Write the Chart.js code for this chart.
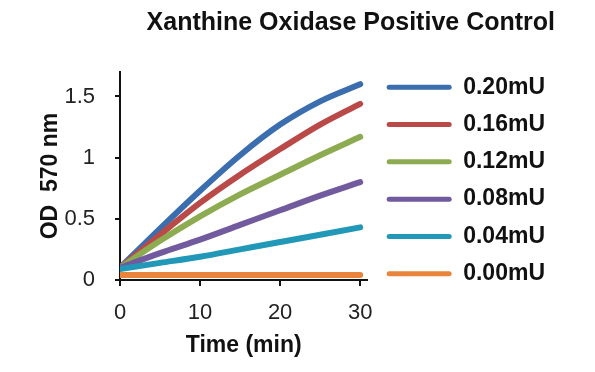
<!DOCTYPE html>
<html>
<head>
<meta charset="utf-8">
<script src="https://cdn.jsdelivr.net/npm/chart.js@4/dist/chart.umd.min.js"></script>
<style>
  html, body { margin: 0; padding: 0; background: #fff; }
  #wrap { width: 595px; height: 372px; }
</style>
</head>
<body>
<div id="wrap"><canvas id="xoChart" width="595" height="372"></canvas></div>
<script>
// time points (min)
const times = [0, 5, 10, 15, 20, 25, 30];

// OD 570 nm
const od020 = [0.10, 0.42, 0.73, 1.02, 1.27, 1.46, 1.60];
const od016 = [0.10, 0.37, 0.63, 0.86, 1.07, 1.27, 1.44];
const od012 = [0.10, 0.32, 0.52, 0.70, 0.86, 1.02, 1.17];
const od008 = [0.10, 0.22, 0.33, 0.45, 0.57, 0.69, 0.80];
const od004 = [0.09, 0.14, 0.19, 0.25, 0.31, 0.37, 0.43];
const od000 = [0.04, 0.04, 0.04, 0.04, 0.04, 0.04, 0.04];

const seriesLabels = ['0.20mU', '0.16mU', '0.12mU', '0.08mU', '0.04mU', '0.00mU'];
const seriesValues = [od020, od016, od012, od008, od004, od000];
const seriesColors = ['#3b6eae', '#b94a47', '#8dab50', '#725a9e', '#2298b9', '#e9843d'];

const yTicks = [0, 0.5, 1, 1.5];

const FONT = '"Liberation Sans", Arial, sans-serif';

const datasets = seriesLabels.map((label, i) => ({
  label: label,
  data: times.map((t, j) => ({ x: t, y: seriesValues[i][j] })),
  borderColor: seriesColors[i],
  backgroundColor: seriesColors[i],
  borderWidth: 6,
  borderCapStyle: 'round',
  pointRadius: 0,
  tension: 0.4,
  cubicInterpolationMode: 'monotone'
}));
// draw the bottom series last so it overlays like the original
datasets.reverse();

const ctx = document.getElementById('xoChart');
new Chart(ctx.getContext('2d'), {
  type: 'line',
  data: { datasets: datasets },
  options: {
    responsive: false,
    animation: false,
    devicePixelRatio: 1,
    layout: { padding: { left: 37, right: 40, top: 0, bottom: 11 } },
    plugins: {
      title: {
        display: true,
        text: 'Xanthine Oxidase Positive Control',
        align: 'end',
        color: '#111',
        font: { family: FONT, size: 25, weight: 'bold' },
        padding: { top: 8, bottom: 34 }
      },
      legend: {
        position: 'right',
        align: 'center',
        reverse: true,
        maxWidth: 260,
        labels: {
          color: '#111',
          font: { family: FONT, size: 23, weight: 'bold' },
          boxWidth: 65,
          boxHeight: 5,
          padding: 14.3,
          useBorderRadius: true,
          borderRadius: 2.5,
          generateLabels(chart) {
            const items = Chart.defaults.plugins.legend.labels.generateLabels(chart);
            items.forEach(it => {
              it.lineWidth = 0;
              it.fillStyle = it.strokeStyle;
            });
            return items;
          }
        }
      },
      tooltip: { enabled: false }
    },
    scales: {
      x: {
        type: 'linear',
        min: 0,
        max: 30.9,
        border: { display: true, color: '#111', width: 2 },
        grid: { drawOnChartArea: false, drawTicks: true, tickLength: 6, color: '#111', lineWidth: 2 },
        ticks: {
          stepSize: 10,
          includeBounds: false,
          color: '#222',
          padding: 14,
          font: { family: FONT, size: 22 }
        },
        title: {
          display: true,
          text: 'Time (min)',
          color: '#111',
          font: { family: FONT, size: 23, weight: 'bold' },
          padding: { top: 4, bottom: 2 }
        },
        afterFit(scale) { scale.height = 81; }
      },
      y: {
        type: 'linear',
        min: 0,
        max: 1.7,
        border: { display: true, color: '#111', width: 2 },
        grid: { drawOnChartArea: false, drawTicks: true, tickLength: 5, color: '#111', lineWidth: 2 },
        afterBuildTicks(scale) {
          scale.ticks = yTicks.map(v => ({ value: v }));
        },
        ticks: {
          color: '#222',
          padding: 20,
          font: { family: FONT, size: 22 },
          callback: v => String(v)
        },
        title: {
          display: true,
          text: 'OD  570 nm',
          color: '#111',
          font: { family: FONT, size: 23, weight: 'bold' },
          padding: { top: 0, bottom: 0 }
        },
        afterFit(scale) { scale.width = 83; }
      },
      // empty spacer between plot and legend
      gap: {
        type: 'linear',
        position: 'right',
        display: true,
        border: { display: false },
        grid: { display: false },
        ticks: { display: false },
        afterFit(scale) { scale.width = 5; }
      }
    }
  }
});
</script>
</body>
</html>
